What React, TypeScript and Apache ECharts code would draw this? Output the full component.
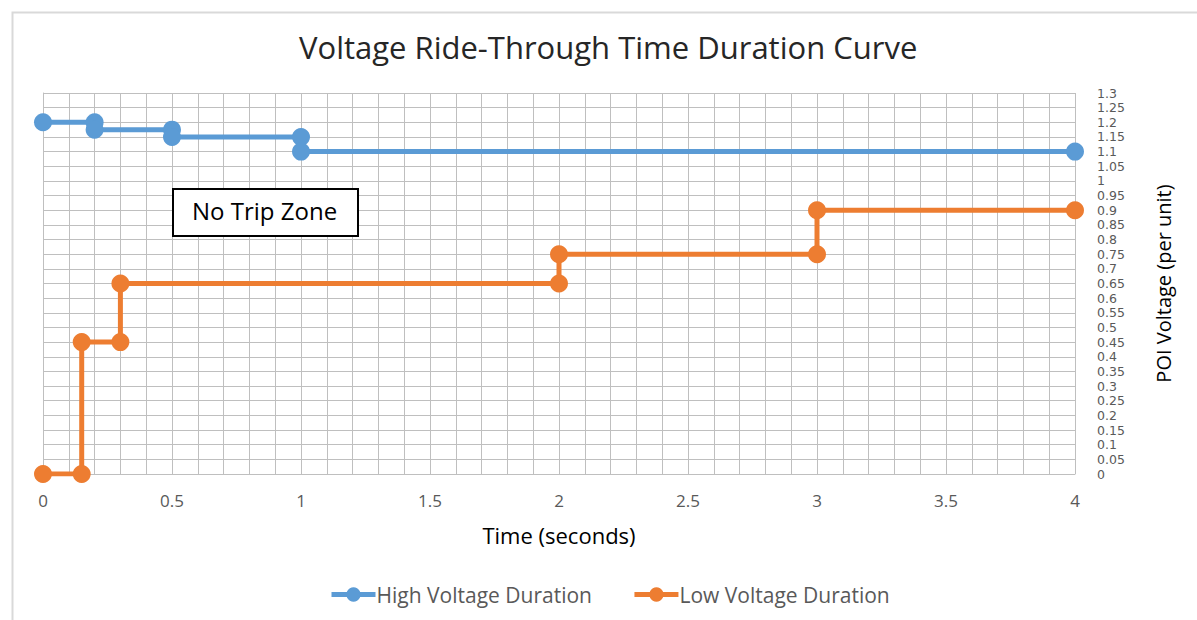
import React, { useEffect, useRef } from "react";
import * as echarts from "echarts";

const highTime = [0, 0.2, 0.2, 0.5, 0.5, 1, 1, 4];
const highVolt = [1.2, 1.2, 1.175, 1.175, 1.15, 1.15, 1.1, 1.1];
const lowTime = [0, 0.15, 0.15, 0.3, 0.3, 2, 2, 3, 3, 4];
const lowVolt = [0, 0, 0.45, 0.45, 0.65, 0.65, 0.75, 0.75, 0.9, 0.9];

const seriesNames = ["High Voltage Duration", "Low Voltage Duration"];
const titleText = "Voltage Ride-Through Time Duration Curve";
const xName = "Time (seconds)";
const yName = "POI Voltage (per unit)";
const annotation = "No Trip Zone";

const FONT = "'Open Sans', 'Noto Sans', sans-serif";
const TICK_FONT = "'DejaVu Sans', sans-serif";

export default function App() {
  const ref = useRef<HTMLDivElement>(null);
  useEffect(() => {
    if (!ref.current) return;
    const chart = echarts.init(ref.current, null, { renderer: "svg" });
    const pair = (xs: number[], ys: number[]) => xs.map((x, i) => [x, ys[i]]);
    chart.setOption({
      animation: false,
      backgroundColor: "#ffffff",
      textStyle: { fontFamily: FONT },
      title: {
        text: titleText,
        left: 294,
        top: 26,
        textStyle: { fontFamily: FONT, fontSize: 31, fontWeight: "normal", color: "#262626" },
      },
      legend: {
        bottom: 10,
        left: 324,
        itemWidth: 44,
        itemHeight: 18,
        itemGap: 40,
        lineStyle: { width: 5 },
        textStyle: { fontFamily: FONT, fontSize: 21, color: "#595959", padding: [0, 0, 0, -4] },
        data: seriesNames,
      },
      grid: { left: 43, right: 122, top: 93, bottom: 146 },
      xAxis: {
        type: "value",
        min: 0,
        max: 4,
        interval: 0.1,
        name: xName,
        nameLocation: "middle",
        nameGap: 50,
        nameTextStyle: { fontFamily: FONT, fontSize: 22, color: "#000000" },
        axisLine: { show: true, lineStyle: { color: "#BFBFBF", width: 1 } },
        axisTick: { show: false },
        splitLine: { show: true, lineStyle: { color: "#BFBFBF", width: 1 } },
        axisLabel: {
          margin: 18,
          fontFamily: FONT,
          fontSize: 17,
          color: "#595959",
          showMaxLabel: true,
          formatter: (v: number) => {
            const d = v * 2;
            return Math.abs(d - Math.round(d)) < 1e-6 ? String(Math.round(v * 10) / 10) : "";
          },
        },
      },
      yAxis: {
        type: "value",
        position: "right",
        min: 0,
        max: 1.3,
        interval: 0.05,
        name: yName,
        nameLocation: "middle",
        nameGap: 78,
        nameRotate: 90,
        nameTextStyle: { fontFamily: FONT, fontSize: 20, color: "#000000" },
        axisLine: { show: true, lineStyle: { color: "#BFBFBF", width: 1 } },
        axisTick: { show: false },
        splitLine: { show: true, lineStyle: { color: "#BFBFBF", width: 1 } },
        axisLabel: {
          margin: 22,
          fontFamily: TICK_FONT,
          fontSize: 12.5,
          lineHeight: 14,
          color: "#595959",
          showMinLabel: true,
          showMaxLabel: true,
          formatter: (v: number) => String(Math.round(v * 100) / 100),
        },
      },
      series: [
        {
          name: seriesNames[0],
          type: "line",
          data: pair(highTime, highVolt),
          color: "#5B9BD5",
          symbol: "circle",
          symbolSize: 18,
          lineStyle: { width: 5, color: "#5B9BD5" },
          itemStyle: { color: "#5B9BD5" },
          z: 3,
        },
        {
          name: seriesNames[1],
          type: "line",
          data: pair(lowTime, lowVolt),
          color: "#ED7D31",
          symbol: "circle",
          symbolSize: 18,
          lineStyle: { width: 5, color: "#ED7D31" },
          itemStyle: { color: "#ED7D31" },
          z: 3,
        },
      ],
      graphic: [
        {
          type: "rect",
          left: 10,
          top: 10,
          shape: { x: 0, y: 0, width: 1400, height: 900 },
          style: { fill: "none", stroke: "#D9D9D9", lineWidth: 2 },
          silent: true,
          z: 0,
        },
        {
          type: "rect",
          left: 172,
          top: 188,
          z: 100,
          shape: { x: 0, y: 0, width: 185, height: 47 },
          style: { fill: "#ffffff", stroke: "#000000", lineWidth: 2 },
        },
        {
          type: "text",
          left: 192,
          top: 198,
          z: 101,
          style: {
            text: annotation,
            fontFamily: FONT,
            fontSize: 24,
            fill: "#000000",
          },
        },
      ],
    });
    return () => chart.dispose();
  }, []);
  return (
    <div
      ref={ref}
      style={{ position: "fixed", left: 0, top: 0, width: 1197, height: 620 }}
    />
  );
}
